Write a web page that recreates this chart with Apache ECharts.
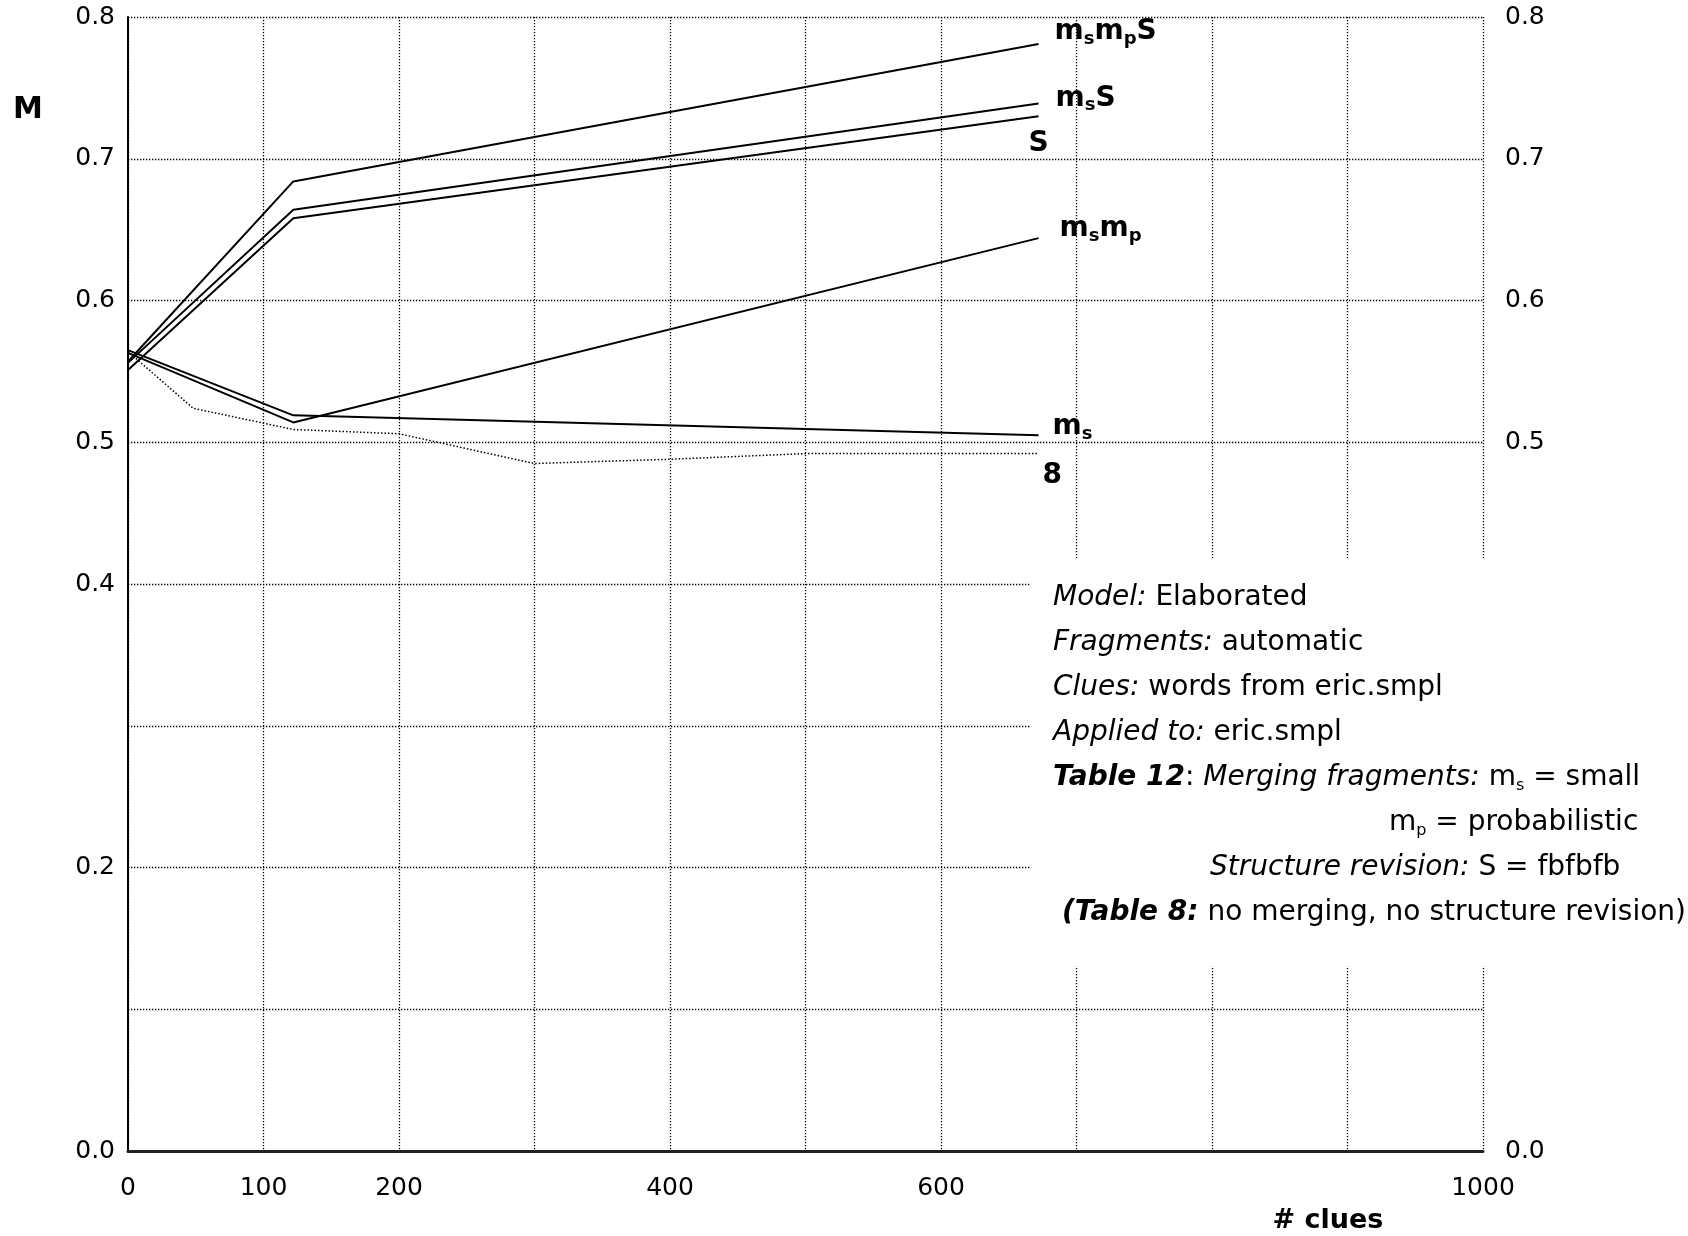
<!DOCTYPE html>
<html><head><meta charset="utf-8">
<script src="https://cdn.jsdelivr.net/npm/echarts@6/dist/echarts.min.js"></script>
<style>html,body{margin:0;padding:0;background:#fff}#c{width:1688px;height:1236px}</style>
</head><body><div id="c"></div>
<script>
// ---- data ----
const clues = [0, 122, 672];
const msmpS = [0.557, 0.684, 0.781];
const msS   = [0.556, 0.664, 0.739];
const Sonly = [0.551, 0.658, 0.730];
const msmp  = [0.563, 0.514, 0.644];
const ms    = [0.565, 0.519, 0.505];
const table8Clues = [0, 48, 122, 200, 300, 400, 500, 672];
const table8      = [0.564, 0.524, 0.509, 0.506, 0.485, 0.488, 0.492, 0.492];
const xTickLabels = ['0', '100', '200', '400', '600', '1000'];
const leftTickLabels = ['0.0', '0.2', '0.4', '0.5', '0.6', '0.7', '0.8'];
const rightTickLabels = ['0.0', '0.5', '0.6', '0.7', '0.8'];
const seriesLabels = {
  msmpS: '{m|m}{s|s}{m|m}{s|p}{m|S}',
  msS: '{m|m}{s|s}{m|S}',
  S: '{m|S}',
  msmp: '{m|m}{s|s}{m|m}{s|p}',
  ms: '{m|m}{s|s}',
  t8: '{m|8}'
};
const noteLines = [
  '{it|Model:}{n| Elaborated}',
  '{it|Fragments:}{n| automatic}',
  '{it|Clues:}{n| words from eric.smpl}',
  '{it|Applied to:}{n| eric.smpl}',
  '{bi|Table 12}{n|: }{it|Merging fragments:}{n| m}{sub|s}{n| = small}',
  '{n|m}{sub|p}{n| = probabilistic}',
  '{it|Structure revision:}{n| S = fbfbfb}',
  '{bi|(Table 8:}{n| no merging, no structure revision)}'
];

// ---- layout / style ----
const FONT = 'DejaVu Sans';
const noteX = [1053, 1053, 1053, 1053, 1053, 1389, 1210, 1062];
const noteY = [598, 643, 688, 733, 778, 823, 868, 913];
const labelRich = {
  m: {fontFamily: FONT, fontSize: 28, fontWeight: 'bold', color: '#000', lineHeight: 32},
  s: {fontFamily: FONT, fontSize: 18, fontWeight: 'bold', color: '#000', lineHeight: 23, verticalAlign: 'bottom'}
};
const noteRich = {
  n: {fontFamily: FONT, fontSize: 28, color: '#000', lineHeight: 32},
  it: {fontFamily: FONT, fontSize: 28, fontStyle: 'italic', color: '#000', lineHeight: 32},
  bi: {fontFamily: FONT, fontSize: 28, fontStyle: 'italic', fontWeight: 'bold', color: '#000', lineHeight: 32},
  sub: {fontFamily: FONT, fontSize: 16, color: '#000', lineHeight: 20, verticalAlign: 'bottom'}
};
const dotted = [1.3, 1.7];

function pairs(xs, ys) { return xs.map((x, i) => [x, ys[i]]); }
function lineSeries(name, xs, ys, label, offset, isDotted) {
  return {
    type: 'line', name: name, data: pairs(xs, ys), symbol: 'none', silent: true,
    lineStyle: {color: '#000', width: isDotted ? 1.5 : 2, type: isDotted ? [1.5, 2] : 'solid'},
    endLabel: {show: true, formatter: label, offset: offset, distance: 0, rich: labelRich,
      align: 'left', verticalAlign: 'middle'},
    z: 3
  };
}

const chart = echarts.init(document.getElementById('c'), null, {renderer: 'canvas'});
const graphics = [
  {type: 'rect', shape: {x: 1031, y: 560, width: 657, height: 406}, style: {fill: '#fff'}, z: 100, silent: true},
  {type: 'text', x: 13, y: 110, z: 101, style: {text: 'M', font: 'bold 30px "' + FONT + '"', fill: '#000', align: 'left', verticalAlign: 'middle'}},
  {type: 'text', x: 1328, y: 1221, z: 101, style: {text: '# clues', font: 'bold 27px "' + FONT + '"', fill: '#000', align: 'center', verticalAlign: 'middle'}}
];
noteLines.forEach((t, i) => {
  graphics.push({type: 'text', x: noteX[i], y: noteY[i], z: 101,
    style: {text: t, rich: noteRich, align: 'left', verticalAlign: 'middle', fill: '#000'}});
});

chart.setOption({
  animation: false,
  backgroundColor: '#fff',
  grid: {left: 128, right: 205, top: 17, bottom: 85, containLabel: false},
  xAxis: {
    type: 'value', min: 0, max: 1000, interval: 100,
    axisLine: {show: true, onZero: false, lineStyle: {color: '#222', width: 3}},
    axisTick: {show: false},
    axisLabel: {fontFamily: FONT, fontSize: 25, color: '#000', margin: 25,
      formatter: v => xTickLabels.includes(String(v)) ? String(v) : ''},
    splitLine: {show: true, lineStyle: {color: '#000', width: 1.3, type: dotted}}
  },
  yAxis: [{
    type: 'value', min: 0, max: 0.8, interval: 0.1, position: 'left',
    axisLine: {show: true, lineStyle: {color: '#000', width: 2}},
    axisTick: {show: false},
    axisLabel: {fontFamily: FONT, fontSize: 25, color: '#000', margin: 13,
      formatter: v => { const s = v.toFixed(1); return leftTickLabels.includes(s) ? s : ''; }},
    splitLine: {show: true, lineStyle: {color: '#000', width: 1.3, type: dotted}}
  }, {
    type: 'value', min: 0, max: 0.8, interval: 0.1, position: 'right',
    axisLine: {show: false}, axisTick: {show: false}, splitLine: {show: false},
    axisLabel: {fontFamily: FONT, fontSize: 25, color: '#000', margin: 22,
      formatter: v => { const s = v.toFixed(1); return rightTickLabels.includes(s) ? s : ''; }}
  }],
  series: [
    lineSeries('msmpS', clues, msmpS, seriesLabels.msmpS, [16, -12], false),
    lineSeries('msS', clues, msS, seriesLabels.msS, [17, -5], false),
    lineSeries('S', clues, Sonly, seriesLabels.S, [-10, 27], false),
    lineSeries('msmp', clues, msmp, seriesLabels.msmp, [21, -9], false),
    lineSeries('ms', clues, ms, seriesLabels.ms, [14, -8], false),
    lineSeries('Table 8', table8Clues, table8, seriesLabels.t8, [4, 22], true)
  ],
  graphic: graphics
});
</script>
</body></html>
